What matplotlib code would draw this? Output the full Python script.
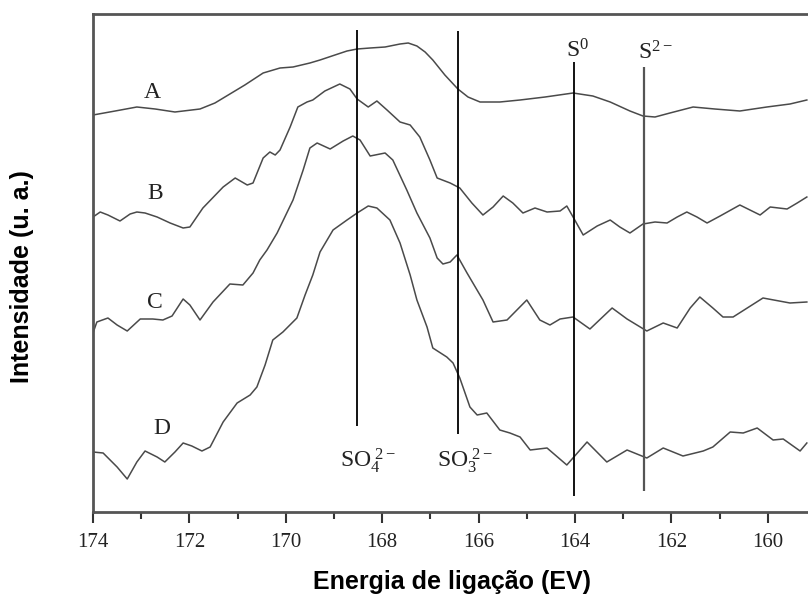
import numpy as np
import matplotlib
matplotlib.use("Agg")
import matplotlib.pyplot as plt

plt.rcParams['mathtext.fontset'] = 'custom'
plt.rcParams['mathtext.rm'] = 'Liberation Serif'
plt.rcParams['mathtext.it'] = 'Liberation Serif'

# binding energy (eV) and intensity (arbitrary units)
eA = [174.00, 173.54, 173.09, 172.71, 172.30, 171.78, 171.47, 171.16, 170.85, 170.47,
      170.12, 169.85, 169.50, 169.29, 168.98, 168.73, 168.52, 168.25, 167.94, 167.63,
      167.46, 167.28, 167.11, 166.95, 166.70, 166.43, 166.22, 165.97, 165.56, 165.14,
      164.62, 164.04, 163.63, 163.27, 162.86, 162.59, 162.34, 162.03, 161.55, 161.10,
      160.58, 160.02, 159.54, 159.19]
iA = [397, 401, 405, 403, 400, 403, 409, 418, 427, 439,
      444, 445, 449, 452, 457, 461, 463, 464, 465, 468,
      469, 466, 460, 452, 437, 423, 415, 410, 410, 412,
      415, 419, 416, 410, 401, 396, 395, 399, 405, 403,
      401, 405, 408, 412]

eB = [174.00, 173.85, 173.69, 173.44, 173.23, 173.09, 172.92, 172.67, 172.40, 172.13,
      171.99, 171.72, 171.30, 171.05, 170.80, 170.68, 170.47, 170.33, 170.22, 170.12,
      169.91, 169.75, 169.56, 169.44, 169.19, 168.88, 168.67, 168.52, 168.29, 168.11,
      167.90, 167.63, 167.42, 167.22, 167.01, 166.86, 166.59, 166.39, 166.14, 165.91,
      165.70, 165.49, 165.29, 165.08, 164.83, 164.58, 164.31, 164.17, 164.04, 163.83,
      163.54, 163.27, 163.07, 162.86, 162.59, 162.34, 162.09, 161.88, 161.68, 161.47,
      161.26, 160.99, 160.58, 160.37, 160.16, 159.95, 159.60, 159.39, 159.19]
iB = [295, 300, 297, 291, 298, 300, 299, 295, 289, 284,
      285, 304, 325, 334, 327, 329, 354, 360, 357, 362,
      385, 405, 410, 412, 421, 428, 423, 413, 405, 411,
      402, 390, 387, 375, 352, 334, 329, 324, 309, 297,
      305, 316, 309, 299, 304, 300, 301, 306, 295, 277,
      286, 292, 285, 279, 288, 290, 289, 295, 300, 295,
      289, 296, 307, 302, 297, 305, 303, 309, 315]

eC = [174.00, 173.92, 173.69, 173.50, 173.29, 173.02, 172.76, 172.55, 172.36, 172.13,
      171.99, 171.78, 171.51, 171.16, 170.89, 170.68, 170.54, 170.39, 170.18, 169.85,
      169.64, 169.50, 169.35, 169.08, 168.81, 168.61, 168.46, 168.25, 167.94, 167.78,
      167.49, 167.28, 167.01, 166.86, 166.74, 166.59, 166.45, 166.24, 165.91, 165.70,
      165.41, 165.00, 164.73, 164.52, 164.31, 164.04, 163.69, 163.23, 162.92, 162.51,
      162.17, 161.88, 161.61, 161.41, 161.14, 160.93, 160.72, 160.10, 159.54, 159.19]
iC = [179, 190, 194, 187, 181, 193, 193, 192, 196, 213,
      207, 192, 210, 228, 227, 239, 252, 262, 279, 312,
      342, 364, 369, 363, 371, 376, 372, 356, 359, 352,
      322, 299, 274, 254, 248, 250, 257, 239, 212, 190,
      192, 212, 192, 187, 193, 195, 183, 204, 193, 181,
      189, 184, 204, 215, 204, 195, 195, 214, 209, 210]

eD = [174.00, 173.79, 173.50, 173.29, 173.09, 172.92, 172.67, 172.51, 172.30, 172.13,
      171.95, 171.74, 171.57, 171.30, 171.01, 170.74, 170.60, 170.43, 170.27, 170.06,
      169.77, 169.60, 169.44, 169.29, 169.02, 168.73, 168.52, 168.29, 168.11, 167.84,
      167.63, 167.42, 167.28, 167.07, 166.95, 166.66, 166.53, 166.39, 166.18, 166.03,
      165.83, 165.56, 165.35, 165.14, 164.93, 164.58, 164.17, 163.75, 163.34, 162.92,
      162.51, 162.17, 161.76, 161.34, 161.14, 160.78, 160.51, 160.22, 159.89, 159.68,
      159.33, 159.19]
iD = [60, 59, 45, 33, 50, 61, 55, 50, 60, 69,
      66, 61, 65, 90, 109, 117, 125, 147, 172, 180,
      194, 217, 237, 260, 282, 292, 299, 306, 304, 292,
      269, 237, 212, 185, 164, 155, 149, 134, 105, 97,
      99, 82, 79, 75, 62, 64, 47, 70, 50, 62,
      54, 64, 56, 61, 65, 80, 79, 84, 72, 73,
      61, 69]

curve_names = ['A', 'B', 'C', 'D']
name_pos = [(172.78, 419), (172.71, 319), (172.71, 210), (172.57, 84)]

# reference positions of the sulfur species
ref_energy = [168.52, 166.42, 164.03, 162.57]
ref_top = [482, 481, 450, 445]
ref_bottom = [86, 78, 16, 21]
ref_labels = [r'SO$_4^{\ \mathrm{2-}}$', r'SO$_3^{\ \mathrm{2-}}$',
              r'S$^{\mathrm{0}}$', r'S$^{\mathrm{2-}}$']
ref_label_pos = [(168.88, 45), (166.86, 45), (164.19, 454), (162.69, 452)]

fig = plt.figure(figsize=(8.08, 6.08), dpi=100)
ax = fig.add_axes([93/808, 96/608, 730/808, 498/608])

for e, i in [(eA, iA), (eB, iB), (eC, iC), (eD, iD)]:
    ax.plot(e, i, color='#4a4a4a', lw=1.1)

ax.vlines(ref_energy[:3], ref_bottom[:3], ref_top[:3], color='black', lw=1.3)
ax.vlines(ref_energy[3], ref_bottom[3], ref_top[3], color='#555555', lw=1.6)

for n, (x, y) in zip(curve_names, name_pos):
    ax.text(x, y, n, fontsize=17, family='Liberation Serif', ha='center', va='center', color='#222222')
for lab, (x, y) in zip(ref_labels, ref_label_pos):
    ax.text(x, y, lab, fontsize=17, family='Liberation Serif', ha='left', va='baseline', color='#222222')

ax.set_xlim(174, 174 - 730/48.2)
ax.set_ylim(0, 498)
ax.set_xticks(np.arange(174, 158, -2))
ax.set_xticks(np.arange(173, 158, -2), minor=True)
ax.set_xticklabels([str(v) for v in range(174, 158, -2)], family='Liberation Serif', fontsize=15, color='#222222')
ax.tick_params(axis='x', which='major', direction='out', length=8, width=1.5, pad=7, color='#333333')
ax.tick_params(axis='x', which='minor', direction='out', length=5, width=1.5, color='#333333')
ax.set_yticks([])
ax.spines['right'].set_visible(False)
for s in ['top', 'bottom', 'left']:
    ax.spines[s].set_linewidth(2)
    ax.spines[s].set_color('#555555')

fig.text(452/808, 1 - 582/608, 'Energia de ligação (EV)', fontsize=18, fontweight='bold',
         family='Liberation Sans', ha='center', va='center')
fig.text(22/808, 1 - 277/608, 'Intensidade (u. a.)', fontsize=18, fontweight='bold',
         family='Liberation Sans', ha='center', va='center', rotation=90)

fig.savefig('out.png', dpi=100)
